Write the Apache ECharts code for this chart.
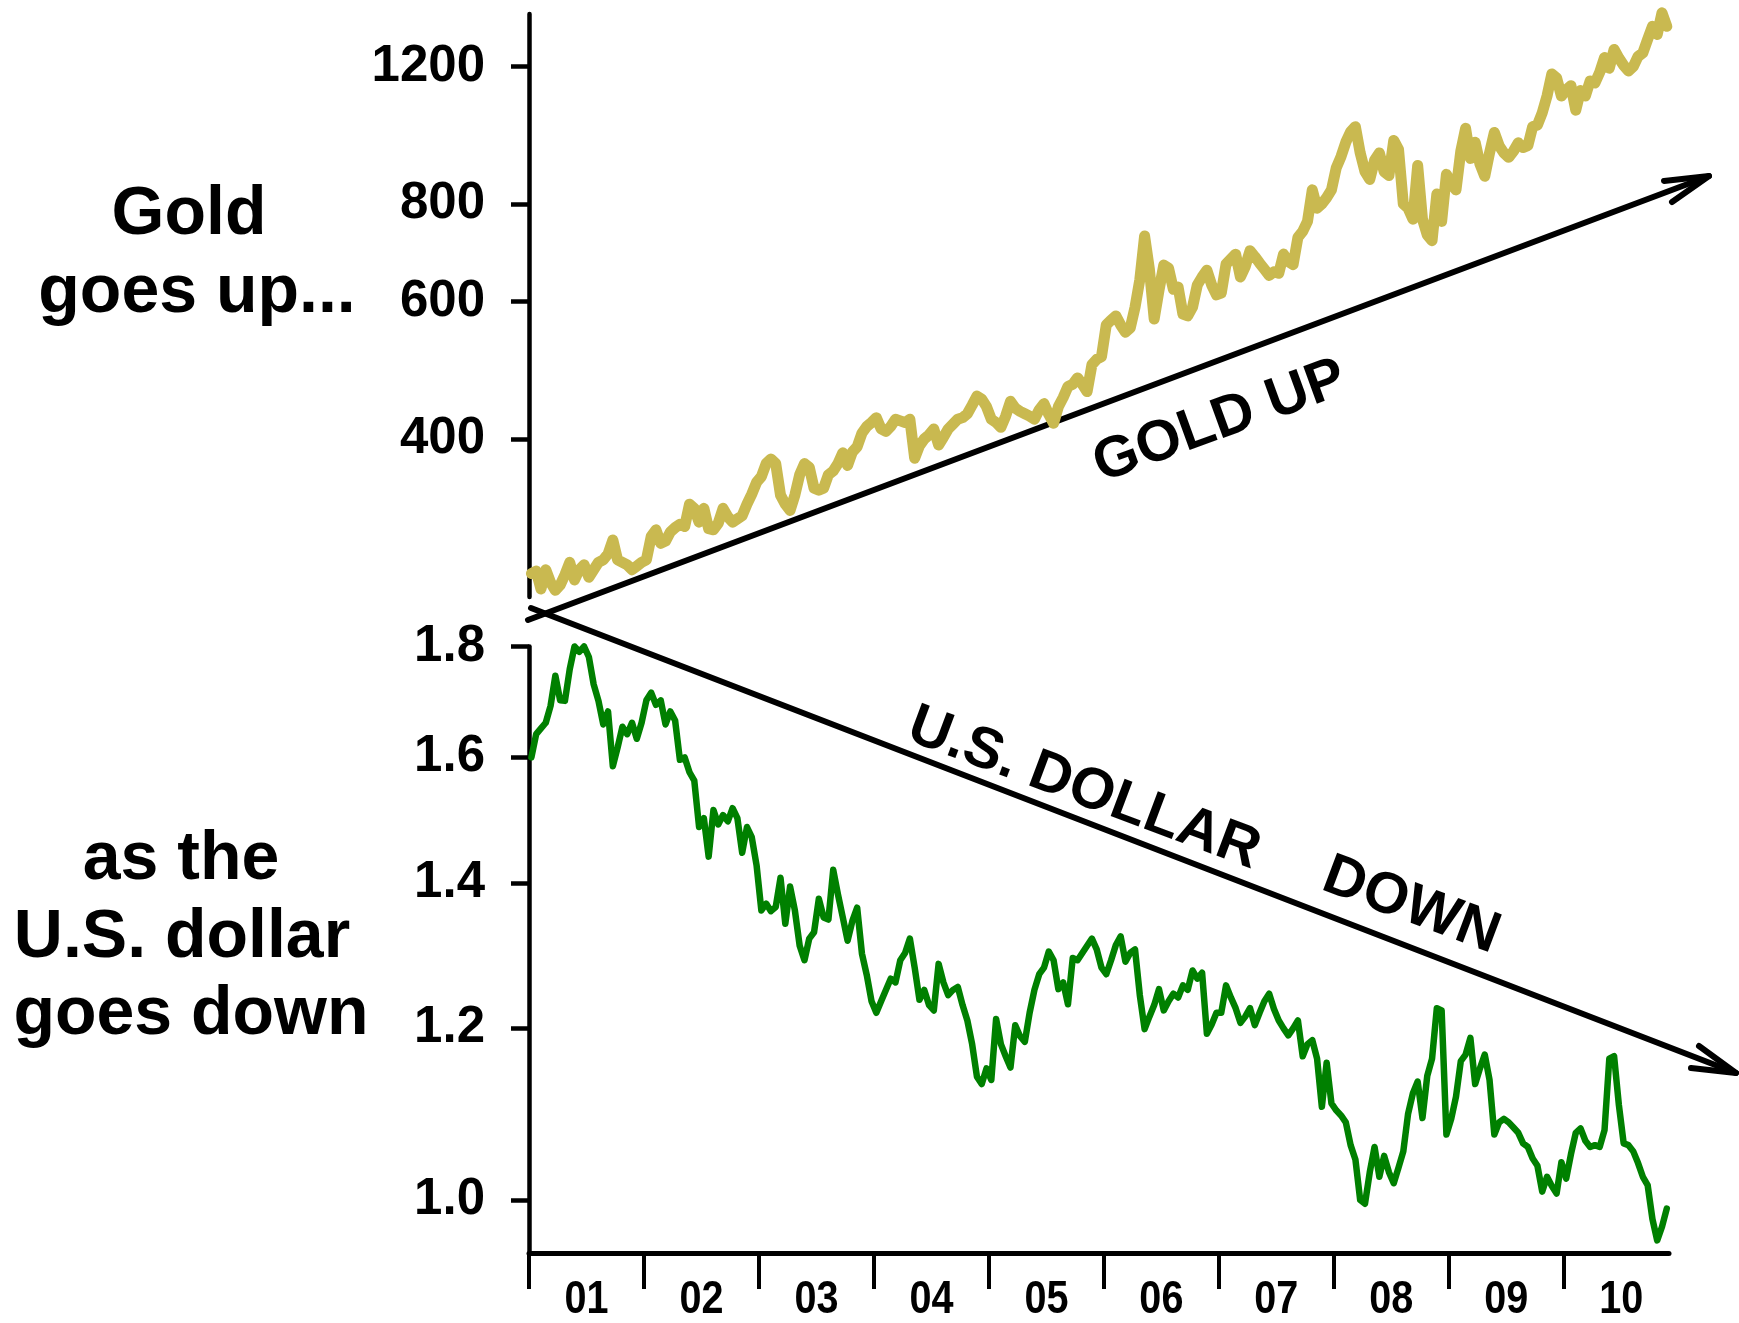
<!DOCTYPE html>
<html>
<head>
<meta charset="utf-8">
<title>Gold up, dollar down</title>
<script src="https://cdn.jsdelivr.net/npm/echarts@6/dist/echarts.min.js"></script>
<style>
  html, body { margin: 0; padding: 0; background: #fff; }
  #chart { width: 1739px; height: 1323px; }
</style>
</head>
<body>
<div id="chart"></div>
<script>
// half-month readings, one row per year, 2001 .. Nov 2010
const firstYear = 2001;
const slotsPerYear = 24;

// gold, US$ per ounce
const goldPrice = [
  269, 271, 257, 272, 262, 256, 260, 268, 278, 264, 272, 276, 266, 272, 278, 280, 285, 297, 280, 278, 276, 272, 275, 278,
  280, 300, 306, 294, 296, 304, 308, 311, 309, 330, 326, 313, 326, 307, 306, 312, 326, 318, 313, 316, 319, 330, 340, 352,
  358, 372, 377, 372, 339, 330, 324, 339, 360, 372, 368, 346, 344, 346, 360, 364, 372, 384, 370, 385, 391, 407, 415, 420,
  426, 412, 409, 415, 424, 422, 420, 424, 378, 392, 400, 405, 412, 393, 402, 412, 418, 424, 426, 431, 442, 454, 450, 440,
  424, 420, 414, 428, 447, 438, 434, 431, 428, 424, 436, 444, 430, 419, 440, 452, 467, 470, 479, 470, 460, 498, 506, 510,
  560, 568, 575, 560, 548, 555, 590, 640, 728, 660, 570, 620, 668, 662, 622, 626, 578, 575, 590, 630, 645, 658, 630, 612,
  615, 670, 680, 690, 645, 665, 697, 685, 672, 660, 648, 655, 652, 690, 675, 669, 725, 738, 760, 834, 790, 800, 815, 834,
  890, 920, 960, 990, 1005, 930, 880, 860, 910, 930, 880, 870, 965, 940, 800, 790, 765, 896, 765, 730, 718, 824, 760, 873,
  850, 834, 935, 1000, 915, 960, 900, 868, 930, 988, 950, 930, 918, 935, 958, 945, 950, 1005, 1010, 1047, 1100, 1174, 1160, 1100,
  1120, 1134, 1055, 1118, 1100, 1150, 1143, 1180, 1232, 1194, 1262, 1230, 1204, 1184, 1200, 1236, 1249, 1300, 1351, 1319, 1406, 1351
];

// U.S. dollar in Swiss francs
const dollarRate = [
  1.600, 1.640, 1.650, 1.660, 1.690, 1.745, 1.700, 1.699, 1.757, 1.800, 1.790, 1.800, 1.780, 1.729, 1.699, 1.657, 1.680, 1.585, 1.617, 1.653, 1.640, 1.660, 1.632, 1.660,
  1.700, 1.714, 1.692, 1.700, 1.657, 1.680, 1.664, 1.596, 1.600, 1.575, 1.561, 1.486, 1.500, 1.440, 1.513, 1.490, 1.505, 1.495, 1.516, 1.500, 1.446, 1.486, 1.470, 1.427,
  1.360, 1.370, 1.359, 1.365, 1.408, 1.341, 1.395, 1.360, 1.310, 1.290, 1.320, 1.329, 1.377, 1.350, 1.347, 1.420, 1.383, 1.350, 1.317, 1.345, 1.364, 1.299, 1.270, 1.235,
  1.220, 1.235, 1.250, 1.265, 1.260, 1.290, 1.300, 1.320, 1.280, 1.237, 1.250, 1.230, 1.223, 1.285, 1.260, 1.243, 1.250, 1.254, 1.230, 1.210, 1.180, 1.140, 1.131, 1.150,
  1.136, 1.212, 1.180, 1.165, 1.151, 1.204, 1.190, 1.183, 1.220, 1.250, 1.271, 1.280, 1.302, 1.290, 1.251, 1.260, 1.231, 1.293, 1.290, 1.300, 1.310, 1.320, 1.305, 1.280,
  1.271, 1.290, 1.311, 1.323, 1.288, 1.300, 1.305, 1.243, 1.199, 1.215, 1.230, 1.251, 1.223, 1.235, 1.245, 1.240, 1.256, 1.250, 1.276, 1.265, 1.273, 1.193, 1.205, 1.220,
  1.220, 1.256, 1.240, 1.226, 1.207, 1.215, 1.226, 1.204, 1.220, 1.235, 1.245, 1.225, 1.210, 1.200, 1.191, 1.200, 1.210, 1.165, 1.180, 1.185, 1.162, 1.104, 1.157, 1.108,
  1.100, 1.094, 1.086, 1.060, 1.044, 1.000, 0.996, 1.030, 1.058, 1.025, 1.048, 1.030, 1.018, 1.035, 1.053, 1.096, 1.120, 1.134, 1.091, 1.141, 1.162, 1.226, 1.223, 1.072,
  1.090, 1.116, 1.159, 1.167, 1.188, 1.131, 1.150, 1.167, 1.136, 1.072, 1.086, 1.090, 1.086, 1.080, 1.074, 1.062, 1.058, 1.045, 1.037, 1.009, 1.025, 1.015, 1.007, 1.041,
  1.023, 1.050, 1.074, 1.079, 1.065, 1.058, 1.060, 1.058, 1.077, 1.162, 1.165, 1.106, 1.062, 1.060, 1.053, 1.040, 1.025, 1.016, 0.980, 0.958, 0.972, 0.991
];

const goldTicks = [400, 600, 800, 1200];
const dollarTicks = [1.0, 1.2, 1.4, 1.6, 1.8];
const yearTicks = [2001, 2002, 2003, 2004, 2005, 2006, 2007, 2008, 2009, 2010];
const yearLabels = ['01', '02', '03', '04', '05', '06', '07', '08', '09', '10'];

const lastYear = 2010.915;
const sansBold = "'Liberation Sans', Arial, Helvetica, sans-serif";

function toSeries(values) {
  return values.map(function (v, i) {
    return [firstYear + (i + 0.5) / slotsPerYear, v];
  });
}

var myChart = echarts.init(document.getElementById('chart'));

function yAxisFor(grid, min, max, ticks, fmt) {
  return {
    gridIndex: grid,
    type: 'log',
    min: min,
    max: max,
    axisLine: { show: true, lineStyle: { color: '#000', width: 4.5 } },
    axisTick: { show: true, customValues: ticks, length: 18, lineStyle: { color: '#000', width: 4.5 } },
    axisLabel: {
      customValues: ticks,
      formatter: fmt,
      margin: 44,
      color: '#000',
      fontSize: 51,
      fontWeight: 'bold',
      fontFamily: sansBold
    },
    splitLine: { show: false }
  };
}

function textEl(text, x, y, size, deg, sx) {
  return {
    type: 'text',
    x: x,
    y: y,
    rotation: (deg || 0) * Math.PI / 180,
    scaleX: sx || 1,
    z: 5,
    style: {
      text: text,
      fill: '#000',
      fontSize: size,
      fontWeight: 'bold',
      fontFamily: sansBold,
      align: 'center',
      verticalAlign: 'middle'
    }
  };
}

var arrowStyle = { stroke: '#000', fill: null, lineWidth: 6, lineCap: 'round', lineJoin: 'round' };

var graphics = [
  // hand drawn trend arrows
  { type: 'line', z: 1, shape: { x1: 528, y1: 620, x2: 1709, y2: 176 }, style: arrowStyle },
  { type: 'polyline', z: 1, shape: { points: [[1664, 181], [1709, 176], [1672, 202]] }, style: arrowStyle },
  { type: 'line', z: 1, shape: { x1: 531, y1: 608, x2: 1736, y2: 1073 }, style: arrowStyle },
  { type: 'polyline', z: 1, shape: { points: [[1699, 1046], [1736, 1073], [1691, 1068]] }, style: arrowStyle },
  textEl('GOLD UP', 1220, 422, 58, 20),
  textEl('U.S. DOLLAR', 1084, 789, 58, -20.5),
  textEl('DOWN', 1411, 906, 58, -20.5),
  textEl('Gold', 189, 215, 68),
  textEl('goes up...', 197, 293, 68),
  textEl('as the', 181, 860, 68),
  textEl('U.S. dollar', 182, 938, 68),
  textEl('goes down', 191, 1015, 68)
];

var option = {
  animation: false,
  backgroundColor: '#fff',
  grid: [
    { left: 529, right: 70, top: 14, height: 583 },
    { left: 529, right: 70, top: 646.5, height: 606.5 }
  ],
  xAxis: [
    { gridIndex: 0, type: 'value', min: firstYear, max: lastYear, show: false },
    {
      gridIndex: 1,
      type: 'value',
      min: firstYear,
      max: lastYear,
      axisLine: { show: true, onZero: false, lineStyle: { color: '#000', width: 5 } },
      axisTick: { show: true, customValues: yearTicks, length: 36, lineStyle: { color: '#000', width: 4 } },
      axisLabel: { show: false },
      splitLine: { show: false }
    }
  ],
  yAxis: [
    yAxisFor(0, 251, 1401, goldTicks, function (v) { return String(Math.round(v)); }),
    yAxisFor(1, 0.9453, 1.8, dollarTicks, function (v) { return v.toFixed(1); })
  ],
  series: [
    {
      name: 'Gold',
      type: 'line',
      xAxisIndex: 0,
      yAxisIndex: 0,
      data: toSeries(goldPrice),
      symbol: 'none',
      clip: false,
      z: 3,
      lineStyle: { color: '#c9b950', width: 11, cap: 'round', join: 'round' }
    },
    {
      name: 'U.S. dollar',
      type: 'line',
      xAxisIndex: 1,
      yAxisIndex: 1,
      data: toSeries(dollarRate),
      symbol: 'none',
      clip: false,
      z: 3,
      lineStyle: { color: '#008000', width: 6.5, cap: 'round', join: 'round' }
    }
  ],
  graphic: graphics
};

myChart.setOption(option);

// year labels sit mid-year; the source uses a condensed face, so squeeze them
var yearLabelEls = yearTicks.map(function (y, i) {
  var px = myChart.convertToPixel({ xAxisIndex: 1 }, y + 0.5);
  return textEl(yearLabels[i], px, 1300, 46, 0, 0.86);
});
myChart.setOption({ graphic: graphics.concat(yearLabelEls) });
</script>
</body>
</html>
